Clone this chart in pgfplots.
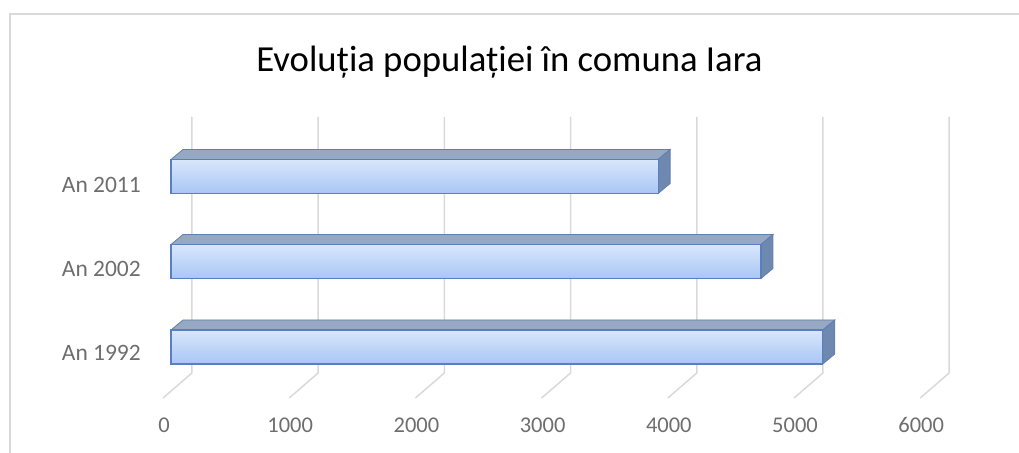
\documentclass[border=0pt]{standalone}
\usepackage{pgfplots}
\pgfplotsset{compat=1.18}
\usepackage{fontspec}
\setmainfont{Carlito}

\definecolor{gridgray}{HTML}{D9D9D9}
\definecolor{labelgray}{HTML}{6E6E6E}
\definecolor{frontTop}{HTML}{D9E6FC}
\definecolor{frontBot}{HTML}{A8C6F4}
\definecolor{barEdge}{HTML}{5A7FC0}
\definecolor{topFace}{HTML}{96A8C2}
\definecolor{sideFace}{HTML}{6F88B0}

\pgfplotsset{
    frontbar/.style={xbar, bar width=34, bar shift=0,
        top color=frontTop, bottom color=frontBot,
        draw=barEdge, line width=1.2pt},
    face/.style={fill=#1, draw=barEdge!80!gray, line width=0.8pt},
}

\begin{document}
\begin{tikzpicture}
\begin{axis}[
    scale only axis,
    width=1019pt, height=453pt,
    xmin=-1355, xmax=6719.5,
    ymin=0, ymax=453,
    axis line style={draw=none},
    tick style={draw=none},
    scaled x ticks=false,
    xtick={0,1000,2000,3000,4000,5000,6000},
    xticklabels={0,1000,2000,3000,4000,5000,6000},
    xticklabel style={anchor=center, yshift=28pt, xshift=-7pt,
        font=\fontsize{22.5}{26}\selectfont, text=labelgray},
    ytick={100,184,268},
    yticklabels={An 1992,An 2002,An 2011},
    yticklabel style={anchor=east, inner sep=0pt, xshift=141pt,
        font=\fontsize{23.5}{26}\selectfont, text=labelgray},
    title={Evoluția populației în comuna Iara},
    title style={at={(rel axis cs:0.5,0.828)}, anchor=base,
        font=\fontsize{36.7}{40}\selectfont},
    /pgf/number format/assume math mode=true,
]
% frame
\addplot[draw=gridgray, line width=2pt] coordinates {(-1276,0) (-1276,439) (6719.5,439)};

% back wall gridlines with floor diagonals
\addplot[draw=gridgray, line width=1.5pt] coordinates {(166,336) (166,80) (-63,55)};
\addplot[draw=gridgray, line width=1.5pt] coordinates {(1166,336) (1166,80) (937,55)};
\addplot[draw=gridgray, line width=1.5pt] coordinates {(2166,336) (2166,80) (1937,55)};
\addplot[draw=gridgray, line width=1.5pt] coordinates {(3166,336) (3166,80) (2937,55)};
\addplot[draw=gridgray, line width=1.5pt] coordinates {(4166,336) (4166,80) (3937,55)};
\addplot[draw=gridgray, line width=1.5pt] coordinates {(5166,336) (5166,80) (4937,55)};
\addplot[draw=gridgray, line width=1.5pt] coordinates {(6166,336) (6166,80) (5937,55)};

% An 2011 = 3860
\addplot[face=topFace] coordinates {(0,293.5) (3860,293.5) (3955,303.5) (95,303.5)} -- cycle;
\addplot[face=sideFace] coordinates {(3860,293.5) (3955,303.5) (3955,269.5) (3860,259.5)} -- cycle;
\addplot[frontbar] coordinates {(3860,276.5)};
% An 2002 = 4675
\addplot[face=topFace] coordinates {(0,208.5) (4675,208.5) (4770,218.5) (95,218.5)} -- cycle;
\addplot[face=sideFace] coordinates {(4675,208.5) (4770,218.5) (4770,184.5) (4675,174.5)} -- cycle;
\addplot[frontbar] coordinates {(4675,191.5)};
% An 1992 = 5165
\addplot[face=topFace] coordinates {(0,123) (5165,123) (5260,133) (95,133)} -- cycle;
\addplot[face=sideFace] coordinates {(5165,123) (5260,133) (5260,99) (5165,89)} -- cycle;
\addplot[frontbar] coordinates {(5165,106)};
\end{axis}
\end{tikzpicture}
\end{document}
